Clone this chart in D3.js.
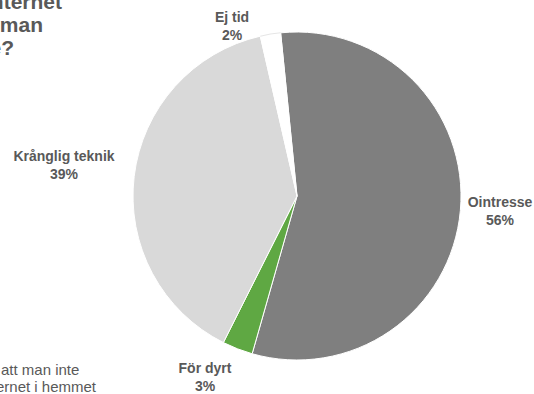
<!DOCTYPE html>
<html>
<head>
<meta charset="utf-8">
<script src="https://cdn.jsdelivr.net/npm/d3@7"></script>
<style>
  html, body { margin: 0; padding: 0; background: #ffffff; overflow: hidden; }
  svg { display: block; font-family: "Liberation Sans", Arial, Helvetica, sans-serif; }
</style>
</head>
<body>
<svg id="chart" width="534" height="394"></svg>
<script>
// Reasons for not having internet at home (share of respondents, %)
const categories = ["Ointresse", "För dyrt", "Krånglig teknik", "Ej tid"];
const values = [56, 3, 39, 2];
const colors = ["#7f7f7f", "#5fa843", "#d9d9d9", "#ffffff"];

const titleLines = ["Varför har hushållet inte internet", "hemma, enligt de som man", "intervjuade?"];
// each note line: [lead-in that runs off the left edge, visible remainder]
const noteLines = [["Andel som anger olika skäl till ", "att man inte"], ["har Int", "ernet i hemmet"]];

const svg = d3.select("#chart");
const cx = 297, cy = 196, r = 164;

const pie = d3.pie()
  .sort(null)
  .value(d => d.value)
  .startAngle(-0.1)
  .endAngle(-0.1 + 2 * Math.PI);

const data = categories.map((c, i) => ({ name: c, value: values[i], color: colors[i] }));
const arcs = pie(data);
const arc = d3.arc().innerRadius(0).outerRadius(r);

const g = svg.append("g").attr("transform", `translate(${cx},${cy})`);
g.selectAll("path")
  .data(arcs)
  .join("path")
  .attr("d", arc)
  .attr("fill", d => d.data.color)
  .attr("stroke", "#ffffff")
  .attr("stroke-width", 1);

// faint outline on the white slice so it reads against the background
g.append("path")
  .datum(arcs[3])
  .attr("d", d3.arc().innerRadius(r - 0.5).outerRadius(r + 0.5))
  .attr("fill", "#e6e6e6");

// slice labels, placed outside the pie
const labelPos = {
  "Ointresse": [500, 207],
  "För dyrt": [205, 373],
  "Krånglig teknik": [64, 161],
  "Ej tid": [232, 22]
};
const lbl = svg.append("g")
  .attr("font-size", 14)
  .attr("font-weight", "bold")
  .attr("fill", "#595959")
  .attr("text-anchor", "middle");
arcs.forEach(a => {
  const [x, y] = labelPos[a.data.name];
  const t = lbl.append("text").attr("x", x).attr("y", y);
  t.append("tspan").attr("x", x).text(a.data.name);
  t.append("tspan").attr("x", x).attr("dy", 17.5).text(a.data.value + "%");
});

// title, top left
const title = svg.append("text")
  .attr("font-size", 21)
  .attr("font-weight", "bold")
  .attr("fill", "#595959")
  .attr("text-anchor", "end");
const titleEnds = [62, 43, 14];
titleLines.forEach((line, i) => {
  title.append("tspan").attr("x", titleEnds[i]).attr("y", 9 + i * 23).text(line);
});

// footnote, bottom left: the lead-in of each line runs past the left edge
const noteStarts = [1, -4];
noteLines.forEach(([lead, rest], i) => {
  const t = svg.append("text")
    .attr("font-size", 15)
    .attr("fill", "#595959")
    .attr("y", 375 + i * 17)
    .attr("xml:space", "preserve");
  const leadSpan = t.append("tspan").text(lead);
  t.append("tspan").text(rest);
  const w = leadSpan.node().getComputedTextLength();
  t.attr("x", noteStarts[i] - w);
});
</script>
</body>
</html>
